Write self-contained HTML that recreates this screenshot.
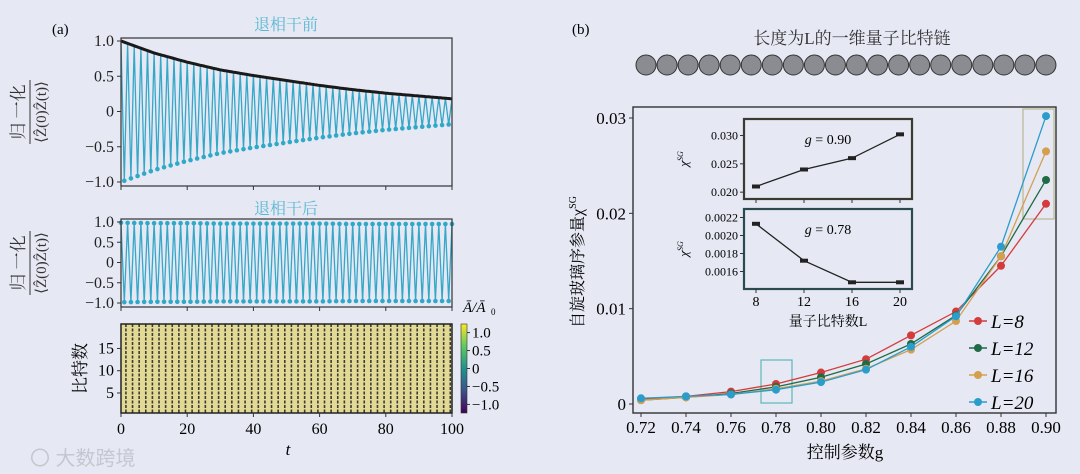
<!DOCTYPE html>
<html><head><meta charset="utf-8"><style>
html,body{margin:0;padding:0;background:#e6e8f3;}
svg{display:block;}
</style></head><body>
<svg id="fig" width="1080" height="474" viewBox="0 0 1080 474" xmlns="http://www.w3.org/2000/svg" font-family="Liberation Serif, Noto Serif CJK SC, serif">
<rect width="1080" height="474" fill="#e6e8f3"/>
<g id="pa" font-family="Liberation Serif, Noto Serif CJK SC, serif"></g>
<g id="pb" font-family="Liberation Serif, Noto Serif CJK SC, serif"></g>
<text x="30" y="465" font-size="20" fill="#c4c7d0" font-family="Liberation Sans, Noto Sans CJK SC, sans-serif">〇 大数跨境</text>
</svg>
<script>
// ---- Panel (a) data ----
const envT = [0,10,20,30,40,50,60,70,80,90,100];
const envBefore = [1.0,0.83,0.70,0.59,0.51,0.44,0.37,0.31,0.26,0.22,0.18];
const envAfter = [0.98,0.97,0.97,0.96,0.96,0.96,0.96,0.95,0.95,0.95,0.95];
const aTicksX = [0,20,40,60,80,100];
const aTicksY = [1.0,0.5,0,-0.5,-1.0];
const aTickLabelsY = ["1.0","0.5","0","−0.5","−1.0"];
const hmTicks = [5,10,15];
const cbTicks = [1.0,0.5,0,-0.5,-1.0];
const cbLabels = ["1.0","0.5","0","−0.5","−1.0"];
// ---- Panel (b) data ----
const gVals = [0.72,0.74,0.76,0.78,0.80,0.82,0.84,0.86,0.88,0.90];
const chiL8 = [0.0005,0.0008,0.0013,0.0021,0.0033,0.0047,0.0072,0.0097,0.0145,0.0210];
const chiL12 = [0.0004,0.0007,0.0011,0.0018,0.0028,0.0042,0.0063,0.0093,0.0155,0.0235];
const chiL16 = [0.0004,0.0007,0.0010,0.0016,0.0024,0.0037,0.0057,0.0087,0.0155,0.0265];
const chiL20 = [0.0006,0.0008,0.0010,0.0015,0.0023,0.0036,0.0060,0.0092,0.0165,0.0302];
const seriesNames = ["L=8","L=12","L=16","L=20"];
const bYTicks = [0,0.01,0.02,0.03];
const bYLabels = ["0","0.01","0.02","0.03"];
const insetL = [8,12,16,20];
const inset90 = [0.0210,0.0240,0.0260,0.0302];
const inset78 = [0.00213,0.00172,0.00148,0.00148];
const in1Ticks = [0.020,0.025,0.030];
const in1Labels = ["0.020","0.025","0.030"];
const in2Ticks = [0.0016,0.0018,0.0020,0.0022];
const in2Labels = ["0.0016","0.0018","0.0020","0.0022"];

const NS="http://www.w3.org/2000/svg";
function mk(parent,tag,attrs,text){const e=document.createElementNS(NS,tag);for(const k in attrs)e.setAttribute(k,attrs[k]);if(text!==undefined)e.textContent=text;parent.appendChild(e);return e;}
function interp(xs,ys,x){for(let i=0;i<xs.length-1;i++){if(x<=xs[i+1]){const f=(x-xs[i])/(xs[i+1]-xs[i]);return ys[i]+f*(ys[i+1]-ys[i]);}}return ys[ys.length-1];}

const pa=document.getElementById('pa');
const xA=t=>121+t*(452-121)/100;
let e;
e=mk(pa,'text',{x:52,y:34,'font-size':15},'(a)');


function oscPanel(name,top,bottom,env,title,titleY){
  const g=mk(pa,'g',{});
  
  const y1=top+3, ym1=bottom-4;
  const yA=v=>y1+(1-v)*(ym1-y1)/2;
  let t=mk(g,'text',{x:286,y:titleY,'font-size':16,fill:'#5ab8d2','text-anchor':'middle'},title);
  
  let pts=[];
  for(let i=0;i<=100;i++){const a=interp(envT,env,i);const v=(i%2===0)?a:-a;pts.push(xA(i).toFixed(1)+','+yA(v).toFixed(1));}
  let pl=mk(g,'polyline',{points:pts.join(' '),fill:'none',stroke:'#35a8c8','stroke-width':1.3});
  
  for(let i=0;i<=100;i++){
    const a=interp(envT,env,i);
    if(i%2===1){let c=mk(g,'circle',{cx:xA(i),cy:yA(-a),r:2.3,fill:'#2fa9c8'});}
    else if(name==='after-panel'){let c=mk(g,'circle',{cx:xA(i),cy:yA(a),r:2.3,fill:'#2fa9c8'});}
  }
  if(name==='before-panel'){
    let bp=[];for(let s=0;s<=200;s++){const tt=s/2;bp.push(xA(tt).toFixed(1)+','+yA(interp(envT,env,tt)).toFixed(1));}
    let bl=mk(g,'polyline',{points:bp.join(' '),fill:'none',stroke:'#1a1a1a','stroke-width':3});
    
  }
  let fr=mk(g,'rect',{x:121,y:top,width:331,height:bottom-top,fill:'none',stroke:'#333','stroke-width':1.2});
  
  aTicksY.forEach((v,i)=>{
    mk(g,'line',{x1:117,x2:121,y1:yA(v),y2:yA(v),stroke:'#333'});
    let tl=mk(g,'text',{x:114,y:yA(v)+5,'font-size':16,'text-anchor':'end',fill:'#222'},aTickLabelsY[i]);
    
  });
  aTicksX.forEach(v=>mk(g,'line',{x1:xA(v),x2:xA(v),y1:bottom,y2:bottom+4,stroke:'#333'}));
  const cy=(top+bottom)/2;
  let yl=mk(g,'g',{transform:`translate(0,${cy}) rotate(-90)`});
  
  mk(yl,'text',{x:0,y:24,'font-size':17,'text-anchor':'middle',fill:'#333'},'归 一化');
  mk(yl,'line',{x1:-32,x2:32,y1:30,y2:30,stroke:'#333'});
  mk(yl,'text',{x:0,y:46,'font-size':15,'text-anchor':'middle',fill:'#333'},'⟨Ẑ(0)Ẑ(t)⟩');
}
oscPanel('before-panel',38,186,envBefore,'退相干前',30);
oscPanel('after-panel',219,307,envAfter,'退相干后',214);

// heatmap
const hm=mk(pa,'g',{});

const hTop=324,hBot=413;
mk(hm,'rect',{x:121,y:hTop,width:331,height:hBot-hTop,fill:'#e2d994'});
for(let i=0;i<100;i++){ if(i%2===1){let c=mk(hm,'line',{x1:xA(i)+1.6,x2:xA(i)+1.6,y1:hTop,y2:hBot,stroke:'#3c3c36','stroke-width':1.6,'stroke-dasharray':'3 1.5'});}}
mk(hm,'rect',{x:121,y:hTop,width:331,height:hBot-hTop,fill:'none',stroke:'#222','stroke-width':1.5});
const yH=b=>hBot-(b-0.5)*(hBot-hTop)/20;
hmTicks.forEach(b=>{mk(hm,'line',{x1:117,x2:121,y1:yH(b),y2:yH(b),stroke:'#333'});let t=mk(hm,'text',{x:114,y:yH(b)+5,'font-size':16,'text-anchor':'end'},String(b));});
aTicksX.forEach(v=>{mk(hm,'line',{x1:xA(v),x2:xA(v),y1:hBot,y2:hBot+4,stroke:'#333'});let t=mk(hm,'text',{x:xA(v),y:434,'font-size':16,'text-anchor':'middle'},String(v));});
e=mk(pa,'text',{x:288,y:455,'font-size':17,'font-style':'italic','text-anchor':'middle'},'t');

let yl=mk(pa,'text',{transform:`translate(86,${(hTop+hBot)/2}) rotate(-90)`,'font-size':17,'text-anchor':'middle'},'比特数');

// colorbar
const cb=mk(pa,'g',{});

const defs=mk(document.getElementById('fig'),'defs',{});
const lg=mk(defs,'linearGradient',{id:'vir',x1:0,y1:1,x2:0,y2:0});
[['0','#440154'],['0.25','#3b528b'],['0.5','#21918c'],['0.75','#5ec962'],['1','#fde725']].forEach(s=>mk(lg,'stop',{offset:s[0],'stop-color':s[1]}));
mk(cb,'rect',{x:461,y:hTop,width:6,height:hBot-hTop,fill:'url(#vir)',stroke:'#333','stroke-width':0.6});
const yC=v=>hTop+5+(1.1-v)*(hBot-hTop-10)/2.2;
cbTicks.forEach((v,i)=>{mk(cb,'line',{x1:467,x2:470,y1:yC(v),y2:yC(v),stroke:'#333'});let t=mk(cb,'text',{x:472,y:yC(v)+5,'font-size':15},cbLabels[i]);});
e=mk(cb,'text',{x:463,y:312,'font-size':15,'font-style':'italic'},'Ā/Ā');
mk(cb,'text',{x:491,y:315,'font-size':9},'0');


// ---- Panel (b) ----
const pb=document.getElementById('pb');
e=mk(pb,'text',{x:572,y:34,'font-size':15},'(b)');

e=mk(pb,'text',{x:852,y:44,'font-size':17,'text-anchor':'middle',fill:'#333'},'长度为L的一维量子比特链');

for(let i=0;i<20;i++){let c=mk(pb,'circle',{cx:646+i*21.05,cy:65,r:10,fill:'#8a8c92',stroke:'#333','stroke-width':1});}
const xB=g=>641+(g-0.72)*(1046-641)/0.18;
const yB=v=>404-v*(404-118)/0.03;
mk(pb,'rect',{x:633,y:107,width:423,height:306,fill:'none',stroke:'#333','stroke-width':1.4});
gVals.forEach(g=>{mk(pb,'line',{x1:xB(g),x2:xB(g),y1:413,y2:417,stroke:'#333'});let t=mk(pb,'text',{x:xB(g),y:433,'font-size':17,'text-anchor':'middle'},g.toFixed(2));});
bYTicks.forEach((v,i)=>{mk(pb,'line',{x1:629,x2:633,y1:yB(v),y2:yB(v),stroke:'#333'});let t=mk(pb,'text',{x:626,y:yB(v)+6,'font-size':17,'text-anchor':'end'},bYLabels[i]);});
e=mk(pb,'text',{x:845,y:458,'font-size':17,'text-anchor':'middle'},'控制参数g');

e=mk(pb,'text',{transform:'translate(583,262) rotate(-90)','font-size':16,'text-anchor':'middle'},'自旋玻璃序参量χ');
mk(e,'tspan',{'font-size':10,dy:-7},'SG');

// highlight boxes
e=mk(pb,'rect',{x:761,y:360,width:31,height:43,fill:'none',stroke:'#5ab8b8','stroke-width':1.2});

e=mk(pb,'rect',{x:1023,y:109,width:31,height:110,fill:'none',stroke:'#b8b890','stroke-width':1.2});

const series=[chiL8,chiL12,chiL16,chiL20];
const cols=['#d43c3c','#1f6b45','#d4a050','#2b9dcc'];
series.forEach((s,k)=>{
  const g=mk(pb,'g',{});
  
  let l=mk(g,'polyline',{points:gVals.map((x,i)=>xB(x)+','+yB(s[i])).join(' '),fill:'none',stroke:cols[k],'stroke-width':1.3});
  
  gVals.forEach((x,i)=>{let c=mk(g,'circle',{cx:xB(x),cy:yB(s[i]),r:4,fill:cols[k]});});
  const ly=321+k*27;
  let lg=mk(pb,'g',{});
  
  mk(lg,'line',{x1:969,x2:987,y1:ly,y2:ly,stroke:cols[k],'stroke-width':1.5});
  mk(lg,'circle',{cx:978,cy:ly,r:4,fill:cols[k]});
  mk(lg,'text',{x:991,y:ly+7,'font-size':19,'font-style':'italic'},seriesNames[k].replace('=','='));
});
// insets
function inset(name,top,bot,vals,ticks,labels,lo,hi,border,label){
  const g=mk(pb,'g',{});
  
  mk(g,'rect',{x:744,y:top,width:168,height:bot-top,fill:'#e6e8f3',stroke:border,'stroke-width':2.2});
  const xi=L=>756+(L-8)*(900-756)/12;
  const yi=v=>bot-4-(v-lo)*(bot-top-8)/(hi-lo);
  let l=mk(g,'polyline',{points:insetL.map((L,i)=>xi(L)+','+yi(vals[i])).join(' '),fill:'none',stroke:'#222','stroke-width':1.3});
  
  insetL.forEach((L,i)=>{let c=mk(g,'rect',{x:xi(L)-4,y:yi(vals[i])-2,width:8,height:4,fill:'#222'});});
  ticks.forEach((v,i)=>{mk(g,'line',{x1:740,x2:744,y1:yi(v),y2:yi(v),stroke:'#333'});let t=mk(g,'text',{x:738,y:yi(v)+4,'font-size':12,'text-anchor':'end'},labels[i]);});
  insetL.forEach(L=>mk(g,'line',{x1:xi(L),x2:xi(L),y1:bot,y2:bot+4,stroke:'#333'}));
  let t=mk(g,'text',{x:828,y:top+25,'font-size':14,'text-anchor':'middle'});
  mk(t,'tspan',{'font-style':'italic'},'g');mk(t,'tspan',{},' = '+label);
  
  let yt=mk(g,'text',{transform:`translate(688,${(top+bot)/2}) rotate(-90)`,'font-size':13,'font-style':'italic','text-anchor':'middle'},'χ');
  mk(yt,'tspan',{'font-size':8,dy:-5},'SG');
  
  return xi;
}
inset('inset-g090',119,199,inset90,in1Ticks,in1Labels,0.0195,0.0322,'#3a3a30','0.90');
const xi=inset('inset-g078',209,289,inset78,in2Ticks,in2Labels,0.00145,0.00225,'#2a4a50','0.78');
insetL.forEach(L=>{let t=mk(pb,'text',{x:xi(L),y:306,'font-size':14,'text-anchor':'middle'},String(L));});
e=mk(pb,'text',{x:828,y:326,'font-size':14,'text-anchor':'middle'},'量子比特数L');

</script>
</body></html>
